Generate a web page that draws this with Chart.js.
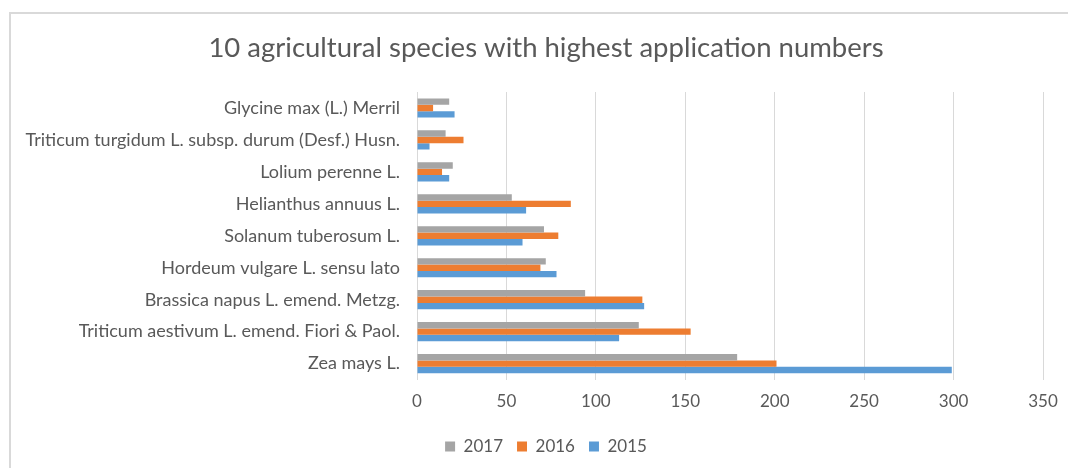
<!DOCTYPE html>
<html>
<head>
<meta charset="utf-8">
<script src="https://cdn.jsdelivr.net/npm/chart.js@4"></script>
<style>
  html, body { margin: 0; padding: 0; background: #fff; overflow: hidden; width: 1068px; height: 468px; }
  #wrap { position: absolute; left: 9px; top: 12px; width: 1074px; height: 456px;
          border-top: 2px solid #d9d9d9; border-left: 2px solid #d9d9d9; box-sizing: border-box; }
  #box { position: absolute; left: 9px; top: 12px; width: 1074px; height: 456px; }
</style>
</head>
<body>
<div id="wrap"></div>
<div id="box"><canvas id="c" width="1074" height="456"></canvas></div>
<script>
const categories = [
  "Glycine max (L.) Merril",
  "Triticum turgidum L. subsp. durum (Desf.) Husn.",
  "Lolium perenne L.",
  "Helianthus annuus L.",
  "Solanum tuberosum L.",
  "Hordeum vulgare L. sensu lato",
  "Brassica napus L. emend. Metzg.",
  "Triticum aestivum L. emend. Fiori & Paol.",
  "Zea mays L."
];
const values2017 = [18, 16, 20, 53, 71, 72, 94, 124, 179];
const values2016 = [9, 26, 14, 86, 79, 69, 126, 153, 201];
const values2015 = [21, 7, 18, 61, 59, 78, 127, 113, 299];
const xTicks = [0, 50, 100, 150, 200, 250, 300, 350];

const FONT = "Lato, 'Open Sans', sans-serif";
const TXT = "#595959";

new Chart(document.getElementById('c'), {
  type: 'bar',
  data: {
    labels: categories,
    datasets: [
      { label: '2017', data: values2017, backgroundColor: '#A5A5A5', borderWidth: 0 },
      { label: '2016', data: values2016, backgroundColor: '#ED7D31', borderWidth: 0 },
      { label: '2015', data: values2015, backgroundColor: '#5B9BD5', borderWidth: 0 }
    ]
  },
  options: {
    indexAxis: 'y',
    responsive: false,
    animation: false,
    datasets: { bar: { categoryPercentage: 0.6, barPercentage: 1.0 } },
    layout: { padding: { top: 0, right: 0, bottom: 3, left: 0 } },
    plugins: {
      title: {
        display: true,
        text: '10 agricultural species with highest application numbers',
        color: TXT,
        font: { family: FONT, size: 27.5, weight: 'normal' },
        padding: { top: 19.5, bottom: 27.5 }
      },
      legend: {
        position: 'bottom',
        labels: {
          color: TXT,
          font: { family: FONT, size: 17 },
          boxWidth: 10, boxHeight: 10,
          padding: 14
        }
      },
      tooltip: { enabled: false }
    },
    scales: {
      x: {
        min: 0, max: 350,
        afterBuildTicks: (s) => { s.ticks = xTicks.map(v => ({ value: v })); },
        afterFit: (s) => { s.paddingRight = 40; },
        grid: { color: '#D9D9D9', drawTicks: false, lineWidth: 1 },
        border: { display: false },
        ticks: { color: TXT, font: { family: FONT, size: 17 }, padding: 12 }
      },
      y: {
        grid: { display: false, drawTicks: false },
        border: { display: true, color: '#D9D9D9' },
        ticks: { color: TXT, font: { family: FONT, size: 18 }, padding: 17 },
        afterFit: (s) => { s.width = 408; }
      }
    }
  }
});
</script>
</body>
</html>
